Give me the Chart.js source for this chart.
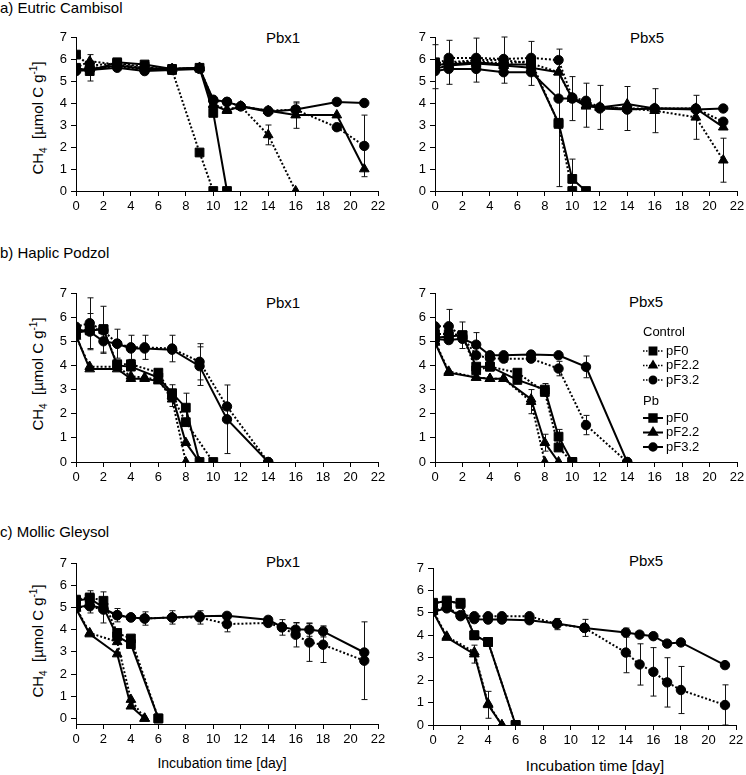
<!DOCTYPE html>
<html>
<head>
<meta charset="utf-8">
<script src="https://cdn.jsdelivr.net/npm/chart.js@4.4.1/dist/chart.umd.min.js"></script>
<style>
body { margin: 0; background: #fff; font-family: "Liberation Sans", Arial, sans-serif; color: #000; }
#page { position: relative; width: 746px; height: 775px; overflow: hidden; }
canvas { position: absolute; }
.lbl { position: absolute; white-space: nowrap; line-height: 1; }
.ctr { transform: translate(-50%, -50%); }
.ytitle { transform: translate(-50%, -50%) rotate(-90deg); font-size: 15px; }
.ytitle sub, .ytitle sup { font-size: 10px; line-height: 0; }
</style>
</head>
<body>
<div id="page">
  <div class="lbl" style="left:0;top:0;font-size:15px">a) Eutric Cambisol</div>
  <div class="lbl" style="left:0;top:245px;font-size:15px">b) Haplic Podzol</div>
  <div class="lbl" style="left:0;top:524px;font-size:15px">c) Mollic Gleysol</div>

  <div class="lbl ytitle" style="left:37px;top:118px">CH<sub>4</sub>&nbsp; [µmol C g<sup>-1</sup>]</div>
  <div class="lbl ytitle" style="left:37px;top:374px">CH<sub>4</sub>&nbsp; [µmol C g<sup>-1</sup>]</div>
  <div class="lbl ytitle" style="left:37px;top:641px">CH<sub>4</sub>&nbsp; [µmol C g<sup>-1</sup>]</div>

  <div class="lbl ctr" style="left:283px;top:37px;font-size:15px">Pbx1</div>
  <div class="lbl ctr" style="left:647px;top:37px;font-size:15px">Pbx5</div>
  <div class="lbl ctr" style="left:283px;top:302px;font-size:15px">Pbx1</div>
  <div class="lbl ctr" style="left:646px;top:301px;font-size:15px">Pbx5</div>
  <div class="lbl ctr" style="left:283px;top:561px;font-size:15px">Pbx1</div>
  <div class="lbl ctr" style="left:646px;top:560px;font-size:15px">Pbx5</div>

  <div class="lbl ctr" style="left:222px;top:763px;font-size:14px">Incubation time [day]</div>
  <div class="lbl ctr" style="left:595px;top:765px;font-size:15px">Incubation time [day]</div>

  <canvas id="a1"></canvas>
  <canvas id="a5"></canvas>
  <canvas id="b1"></canvas>
  <canvas id="b5"></canvas>
  <canvas id="c1"></canvas>
  <canvas id="c5"></canvas>
</div>
<script>
// sampling days
const aDays = [0, 1, 3, 5, 7, 9, 10, 11, 12, 14, 16, 19, 21];
const bDays = [0, 1, 2, 3, 4, 5, 6, 7, 8, 9, 10, 11, 14];
const c1Days = [0, 1, 2, 3, 4, 5, 6, 7, 9, 11, 14, 15, 16, 17, 18, 21];
const c5Days = [0, 1, 2, 3, 4, 5, 6, 7, 9, 11, 14, 15, 16, 17, 18, 21.2];

const xTicks = [0, 2, 4, 6, 8, 10, 12, 14, 16, 18, 20, 22];
const yTicks = [0, 1, 2, 3, 4, 5, 6, 7];
const groupNames = ['Control', 'Pb'];
const pfNames = ['pF0', 'pF2.2', 'pF3.2'];

// a) Eutric Cambisol, Pbx1
const a1CtrlF0  = [6.2, 5.7, 5.8, 5.65, 5.5, 1.75, 0, null, null, null, null, null, null];
const a1CtrlF22 = [5.6, 5.9, 5.75, 5.6, 5.55, 5.6, 3.95, 3.7, 3.85, 2.55, 0, null, null];
const a1CtrlF32 = [5.5, 5.6, 5.65, 5.5, 5.55, 5.6, 4.1, 4.05, 3.85, 3.65, 3.7, 2.9, 2.05];
const a1PbF0    = [5.6, 5.45, 5.85, 5.75, 5.55, 5.6, 3.55, 0, null, null, null, null, null];
const a1PbF22   = [5.5, 5.55, 5.7, 5.55, 5.55, 5.6, 3.9, 3.65, 3.85, 3.65, 3.45, 3.45, 1.0];
const a1PbF32   = [5.45, 5.5, 5.6, 5.45, 5.5, 5.55, 4.15, 4.05, 3.85, 3.6, 3.7, 4.05, 4.0];
const a1CtrlF22Err = [null, 0.3, null, null, null, null, null, null, null, 0.45, null, null, null];
const a1CtrlF32Err = [null, null, 0.1, null, null, null, null, null, null, null, 0.3, null, 1.4];
const a1PbF0Err    = [null, 0.45, null, null, null, null, null, null, null, null, null, null, null];
const a1PbF22Err   = [null, null, null, null, null, null, null, null, null, null, 0.6, null, null];

// a) Eutric Cambisol, Pbx5
const a5CtrlF0  = [5.85, 5.8, 5.9, 5.8, 5.9, 3.05, 0, null, null, null, null, null, null];
const a5CtrlF22 = [5.65, 5.85, 5.95, 5.95, 5.8, 5.4, 4.2, 3.9, 3.8, 3.75, 3.65, 3.35, 1.4];
const a5CtrlF32 = [5.7, 6.05, 6.05, 6.0, 6.05, 5.95, 4.25, 4.1, 3.8, 3.75, 3.75, 3.75, 3.15];
const a5PbF0    = [5.75, 5.75, 5.85, 5.75, 5.75, 3.1, 0.55, 0, null, null, null, null, null];
const a5PbF22   = [5.55, 5.7, 5.8, 5.7, 5.6, 5.4, 4.2, 3.85, 3.8, 3.95, 3.75, 3.75, 2.9];
const a5PbF32   = [5.45, 5.55, 5.55, 5.4, 5.4, 4.2, 4.2, 4.0, 3.75, 3.7, 3.75, 3.7, 3.75];
const a5CtrlF22Err = [1.0, 1.0, 1.0, 1.05, 1.0, null, 1.0, 1.0, 1.0, 1.0, 1.0, 1.0, 1.0];
const a5CtrlF32Err = [null, null, null, null, null, 0.5, null, null, null, null, null, null, null];
const a5PbF0Err    = [null, null, null, null, null, 2.9, 0.9, null, null, null, null, null, null];

// b) Haplic Podzol, Pbx1
const b1CtrlF0  = [5.4, 5.5, 5.5, 4.05, 4.05, null, 3.7, 2.75, 1.65, null, 0, null, null];
const b1CtrlF22 = [5.2, 3.95, null, 3.95, 3.55, 3.5, 3.4, 2.6, 0, null, null, null, null];
const b1CtrlF32 = [5.6, 5.75, 5.45, 4.9, 4.75, 4.75, null, 4.7, null, 4.15, null, 2.3, 0];
const b1PbF0    = [5.35, 5.45, 5.5, 4.0, 3.95, null, 3.5, 2.85, 2.25, 0, null, null, null];
const b1PbF22   = [5.25, 3.85, null, 3.85, 3.45, 3.45, 3.35, 2.75, 0.8, 0, null, null, null];
const b1PbF32   = [5.5, 5.4, 5.0, 4.9, 4.7, 4.7, null, 4.65, null, 3.97, null, 1.77, 0];
const b1CtrlF32Err = [null, 1.05, null, 0.6, 0.5, 0.5, null, 0.55, null, 0.75, null, null, null];
const b1PbF0Err    = [null, null, 0.95, null, null, null, null, null, 0.6, null, null, null, null];
const b1PbF22Err   = [null, null, null, null, null, null, null, 0.45, null, null, null, null, null];
const b1PbF32Err   = [null, 0.75, 0.5, null, null, null, null, null, null, 0.8, null, 1.42, null];

// b) Haplic Podzol, Pbx5
const b5CtrlF0  = [5.3, 5.3, 5.25, 3.8, 3.95, null, 3.7, null, 2.9, 0.6, 0, null, null];
const b5CtrlF22 = [5.0, 3.75, null, 3.5, 3.45, 3.45, null, 2.5, 0, null, null, null, null];
const b5CtrlF32 = [5.62, 5.62, 5.2, 4.42, 4.3, 4.28, null, 4.28, null, 3.87, null, 1.53, 0];
const b5PbF0    = [5.15, 5.2, 5.25, 3.95, 3.95, null, 3.4, null, 3.0, 1.05, 0, null, null];
const b5PbF22   = [4.95, 3.7, null, 3.5, 3.45, 3.45, null, 2.6, 0.8, 0, null, null, null];
const b5PbF32   = [5.1, 5.05, 5.1, 4.86, 4.42, 4.42, null, 4.45, null, 4.42, null, 3.94, 0];
const b5CtrlF22Err = [null, null, null, null, null, null, null, 0.5, null, null, null, null, null];
const b5CtrlF32Err = [null, 0.7, null, null, 0.2, 0.15, null, null, null, 0.3, null, 0.4, null];
const b5PbF0Err    = [null, null, 0.55, null, null, null, null, null, 0.25, 0.3, null, null, null];
const b5PbF22Err   = [null, null, null, null, null, null, null, null, 0.35, null, null, null, null];
const b5PbF32Err   = [null, null, null, 0.5, null, null, null, null, null, null, null, 0.45, null];

// c) Mollic Gleysol, Pbx1
const c1CtrlF0  = [5.35, 5.45, 5.3, 3.85, 3.6, null, 0, null, null, null, null, null, null, null, null, null];
const c1CtrlF22 = [5.0, 3.85, null, 3.45, 0.85, 0, null, null, null, null, null, null, null, null, null, null];
const c1CtrlF32 = [5.0, 5.05, 4.9, 4.65, 4.55, 4.5, null, 4.55, 4.55, 4.25, 4.3, 4.1, 3.77, 3.42, 3.32, 2.6];
const c1PbF0    = [5.3, 5.4, 5.0, 3.7, 3.35, null, 0, null, null, null, null, null, null, null, null, null];
const c1PbF22   = [4.95, 3.8, null, 2.9, 0.55, 0, null, null, null, null, null, null, null, null, null, null];
const c1PbF32   = [5.0, 5.1, 4.95, 4.65, 4.55, 4.5, null, 4.55, 4.6, 4.62, 4.44, 4.12, 4.0, 4.0, 3.92, 2.97];
const c1CtrlF32Err = [null, 0.3, null, 0.3, null, 0.3, null, 0.3, 0.3, 0.35, null, 0.35, 0.55, 0.85, 0.8, 1.75];
const c1PbF0Err    = [null, 0.35, 0.7, null, null, null, null, null, null, null, null, null, null, null, null, null];
const c1PbF32Err   = [null, null, null, null, null, null, null, null, null, null, 0.15, null, 0.3, 0.3, 0.25, null];

// c) Mollic Gleysol, Pbx5
const c5CtrlF0  = [5.45, 5.5, 5.45, 4.0, 3.7, null, 0, null, null, null, null, null, null, null, null, null];
const c5CtrlF22 = [5.1, 3.95, null, 3.25, 0.95, 0, null, null, null, null, null, null, null, null, null, null];
const c5CtrlF32 = [5.1, 5.25, 4.9, 4.85, 4.85, 4.85, null, 4.85, 4.5, 4.33, 3.23, 2.7, 2.37, 1.9, 1.56, 0.89];
const c5PbF0    = [5.4, 5.55, 5.4, 4.0, 3.7, null, 0, null, null, null, null, null, null, null, null, null];
const c5PbF22   = [5.05, 3.9, null, 3.16, 0.9, 0, null, null, null, null, null, null, null, null, null, null];
const c5PbF32   = [5.05, 5.2, 4.85, 4.72, 4.7, 4.7, null, 4.67, 4.53, 4.33, 4.12, 4.03, 3.96, 3.63, 3.68, 2.67];
const c5CtrlF32Err = [null, null, null, null, null, null, null, null, 0.25, 0.38, 0.9, 0.92, 1.08, 1.1, 1.05, 0.9];
const c5PbF22Err   = [null, null, null, 0.4, 0.6, null, null, null, null, null, null, null, null, null, null, null];
const c5PbF32Err   = [null, null, null, null, null, null, null, null, null, null, 0.2, null, null, null, null, null];

// panels: which arrays go where (order: control pF0, pF2.2, pF3.2, Pb pF0, pF2.2, pF3.2)
const panels = [
  { id: 'a1', days: aDays, vals: [a1CtrlF0, a1CtrlF22, a1CtrlF32, a1PbF0, a1PbF22, a1PbF32],
    errs: [null, a1CtrlF22Err, a1CtrlF32Err, a1PbF0Err, a1PbF22Err, null] },
  { id: 'a5', days: aDays, vals: [a5CtrlF0, a5CtrlF22, a5CtrlF32, a5PbF0, a5PbF22, a5PbF32],
    errs: [null, a5CtrlF22Err, a5CtrlF32Err, a5PbF0Err, null, null] },
  { id: 'b1', days: bDays, vals: [b1CtrlF0, b1CtrlF22, b1CtrlF32, b1PbF0, b1PbF22, b1PbF32],
    errs: [null, null, b1CtrlF32Err, b1PbF0Err, b1PbF22Err, b1PbF32Err] },
  { id: 'b5', days: bDays, vals: [b5CtrlF0, b5CtrlF22, b5CtrlF32, b5PbF0, b5PbF22, b5PbF32],
    errs: [null, b5CtrlF22Err, b5CtrlF32Err, b5PbF0Err, b5PbF22Err, b5PbF32Err], legend: true },
  { id: 'c1', days: c1Days, vals: [c1CtrlF0, c1CtrlF22, c1CtrlF32, c1PbF0, c1PbF22, c1PbF32],
    errs: [null, null, c1CtrlF32Err, c1PbF0Err, null, c1PbF32Err], yMin: -0.25 },
  { id: 'c5', days: c5Days, vals: [c5CtrlF0, c5CtrlF22, c5CtrlF32, c5PbF0, c5PbF22, c5PbF32],
    errs: [null, null, c5CtrlF32Err, null, c5PbF22Err, c5PbF32Err] }
];

// plot area of each panel on the page: left, right, top (y=7), bottom (axis)
const boxes = {
  a1: [76, 378, 37, 191], a5: [435, 737, 37, 191],
  b1: [76, 378, 293, 462], b5: [435, 737, 293, 462],
  c1: [76, 378, 563, 724], c5: [433, 736, 568, 725]
};

const markers = [
  { style: 'rect', r: 6.2 }, { style: 'triangle', r: 5.6 }, { style: 'circle', r: 4.7 }
];
const Y_AXIS_W = 50, X_AXIS_H = 26, PAD_T = 12, PAD_R = 12;

Chart.defaults.font.family = '"Liberation Sans", Arial, sans-serif';
Chart.defaults.font.size = 13;
Chart.defaults.color = '#000';

function pts(days, vals, errs) {
  let out = [];
  vals.forEach((v, i) => {
    if (v !== null) out.push({ x: days[i], y: v, e: errs ? errs[i] : null });
  });
  return out;
}

// error bars drawn under the markers
const errorBars = {
  id: 'errorBars',
  beforeDatasetsDraw(chart) {
    const ctx = chart.ctx, xs = chart.scales.x, ys = chart.scales.y;
    ctx.save();
    ctx.strokeStyle = '#111';
    ctx.lineWidth = 1;
    chart.data.datasets.forEach(ds => {
      ds.data.forEach(p => {
        if (!p.e) return;
        let x = Math.round(xs.getPixelForValue(p.x)) + 0.5;
        let y1 = ys.getPixelForValue(Math.max(p.y - p.e, 0));
        let y2 = ys.getPixelForValue(p.y + p.e);
        ctx.beginPath();
        ctx.moveTo(x, y1); ctx.lineTo(x, y2);
        ctx.moveTo(x - 3, y1); ctx.lineTo(x + 3, y1);
        ctx.moveTo(x - 3, y2); ctx.lineTo(x + 3, y2);
        ctx.stroke();
      });
    });
    ctx.restore();
  }
};

// grouped legend (Control / Pb) in panel b Pbx5
const groupLegend = {
  id: 'groupLegend',
  afterDraw(chart, args, opts) {
    if (!opts.show) return;
    const ctx = chart.ctx;
    const x0 = chart.chartArea.left + 208;
    const y0 = chart.chartArea.top + 39;
    const rows = [[0, 19, 33.5, 48], [69, 86, 100.5, 115]];
    ctx.save();
    ctx.fillStyle = '#000';
    ctx.strokeStyle = '#000';
    ctx.textBaseline = 'middle';
    ctx.font = '13px "Liberation Sans", Arial, sans-serif';
    groupNames.forEach((g, gi) => {
      ctx.fillText(g, x0, y0 + rows[gi][0]);
      pfNames.forEach((name, k) => {
        let y = y0 + rows[gi][k + 1];
        ctx.lineWidth = gi === 0 ? 1.5 : 2;
        ctx.setLineDash(gi === 0 ? [1.5, 1.5] : []);
        ctx.beginPath();
        ctx.moveTo(x0, y); ctx.lineTo(x0 + 20, y);
        ctx.stroke();
        ctx.setLineDash([]);
        Chart.helpers.drawPoint(ctx, { pointStyle: markers[k].style, radius: markers[k].r - 1, rotation: 0, borderWidth: 1 }, x0 + 10, y);
        ctx.fillText(name, x0 + 23, y);
      });
    });
    ctx.restore();
  }
};

panels.forEach(p => {
  const [l, r, t, b] = boxes[p.id];
  const cv = document.getElementById(p.id);
  cv.width = (r - l) + Y_AXIS_W + PAD_R;
  cv.height = (b - t) + PAD_T + X_AXIS_H;
  cv.style.left = (l - Y_AXIS_W) + 'px';
  cv.style.top = (t - PAD_T) + 'px';

  const datasets = p.vals.map((vals, i) => {
    const m = markers[i % 3];
    const ctrl = i < 3;
    return {
      label: groupNames[ctrl ? 0 : 1] + ' ' + pfNames[i % 3],
      data: pts(p.days, vals, p.errs[i]),
      borderColor: '#000',
      backgroundColor: '#000',
      borderWidth: 2,
      borderDash: ctrl ? [2, 2] : [],
      pointStyle: m.style,
      pointRadius: m.r,
      pointBorderWidth: 1,
      pointBackgroundColor: '#000',
      pointBorderColor: '#000',
      tension: 0
    };
  });

  new Chart(cv, {
    type: 'line',
    data: { datasets: datasets },
    options: {
      responsive: false,
      animation: false,
      events: [],
      layout: { autoPadding: false, padding: { top: PAD_T, right: PAD_R, left: 0, bottom: 0 } },
      plugins: { legend: { display: false }, tooltip: { enabled: false }, groupLegend: { show: !!p.legend } },
      scales: {
        x: {
          type: 'linear', min: 0, max: 22,
          afterFit: s => { s.height = X_AXIS_H; },
          afterBuildTicks: s => { s.ticks = xTicks.map(v => ({ value: v })); },
          ticks: { padding: 3, maxRotation: 0, autoSkip: false },
          grid: { drawOnChartArea: false, drawTicks: true, tickLength: 5, color: '#000' },
          border: { color: '#000', width: 1 }
        },
        y: {
          type: 'linear', min: p.yMin !== undefined ? p.yMin : 0, max: 7,
          afterFit: s => { s.width = Y_AXIS_W; },
          afterBuildTicks: s => { s.ticks = yTicks.map(v => ({ value: v })); },
          ticks: { padding: 4, autoSkip: false },
          grid: { drawOnChartArea: false, drawTicks: true, tickLength: 5, color: '#000' },
          border: { color: '#000', width: 1 }
        }
      }
    },
    plugins: [errorBars, groupLegend]
  });
});
</script>
</body>
</html>
